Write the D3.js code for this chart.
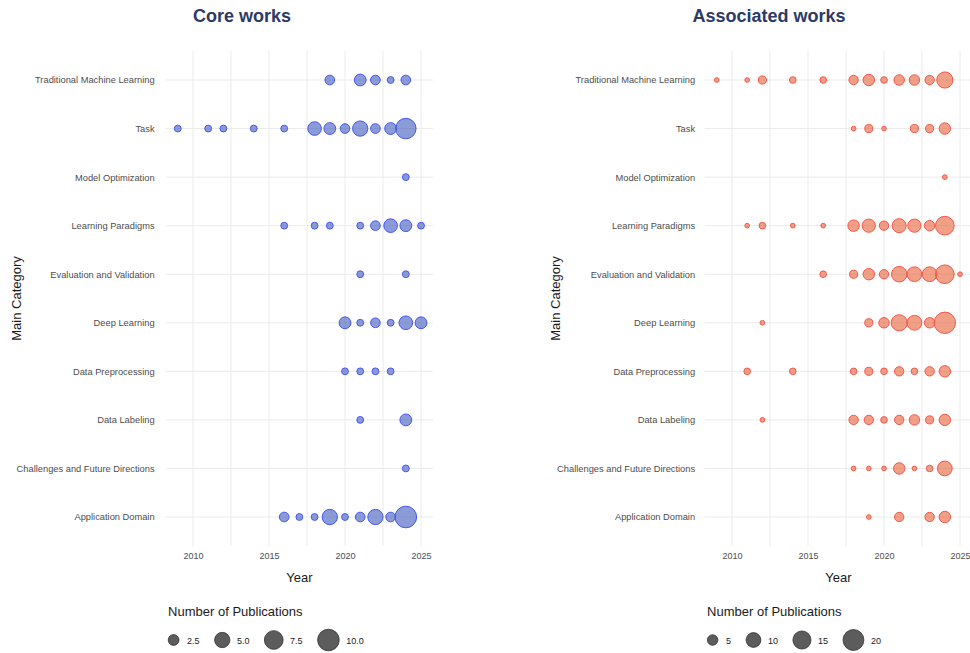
<!DOCTYPE html>
<html>
<head>
<meta charset="utf-8">
<script src="https://cdn.jsdelivr.net/npm/d3@7/dist/d3.min.js"></script>
<style>
  html, body { margin: 0; padding: 0; background: #ffffff; }
  svg { display: block; font-family: "Liberation Sans", Arial, Helvetica, sans-serif; }
</style>
</head>
<body>
<svg id="chart" width="970" height="653"></svg>
<script>
// ---------------- DATA ----------------
const categories = [
  "Traditional Machine Learning",
  "Task",
  "Model Optimization",
  "Learning Paradigms",
  "Evaluation and Validation",
  "Deep Learning",
  "Data Preprocessing",
  "Data Labeling",
  "Challenges and Future Directions",
  "Application Domain"
];

const panelTitles = ["Core works", "Associated works"];
const xTicks = [2010, 2015, 2020, 2025];
const coreLegendBreaks = [2.5, 5.0, 7.5, 10.0];
const assocLegendBreaks = [5, 10, 15, 20];

// [year, number of publications] per category (same order as categories)
const coreCounts = [
  [[2019,2],[2021,3],[2022,2],[2023,1],[2024,2]],
  [[2009,1],[2011,1],[2012,1],[2014,1],[2016,1],[2018,4],[2019,3],[2020,2],[2021,5],[2022,2],[2023,3],[2024,9]],
  [[2024,1]],
  [[2016,1],[2018,1],[2019,1],[2021,1],[2022,2],[2023,4],[2024,3],[2025,1]],
  [[2021,1],[2024,1]],
  [[2020,3],[2021,1],[2022,2],[2023,1],[2024,4],[2025,3]],
  [[2020,1],[2021,1],[2022,1],[2023,1]],
  [[2021,1],[2024,3]],
  [[2024,1]],
  [[2016,2],[2017,1],[2018,1],[2019,5],[2020,1],[2021,2],[2022,5],[2023,2],[2024,10]]
];

const assocCounts = [
  [[2009,1],[2011,1],[2012,3],[2014,2],[2016,2],[2018,4],[2019,6],[2020,2],[2021,5],[2022,5],[2023,4],[2024,12]],
  [[2018,1],[2019,3],[2020,1],[2022,3],[2023,3],[2024,6]],
  [[2024,1]],
  [[2011,1],[2012,2],[2014,1],[2016,1],[2018,6],[2019,8],[2020,4],[2021,9],[2022,8],[2023,5],[2024,16]],
  [[2016,2],[2018,3],[2019,6],[2020,4],[2021,11],[2022,10],[2023,10],[2024,16],[2025,1]],
  [[2012,1],[2019,3],[2020,5],[2021,12],[2022,10],[2023,5],[2024,21]],
  [[2011,2],[2014,2],[2018,2],[2019,3],[2020,2],[2021,4],[2022,2],[2023,4],[2024,6]],
  [[2012,1],[2018,4],[2019,4],[2020,2],[2021,4],[2022,5],[2023,3],[2024,6]],
  [[2018,1],[2019,1],[2020,1],[2021,6],[2022,1],[2023,2],[2024,10]],
  [[2019,1],[2021,4],[2023,4],[2024,6]]
];

// ---------------- LAYOUT ----------------
const svg = d3.select("#chart");
const panels = [
  { title: panelTitles[0], counts: coreCounts, breaks: coreLegendBreaks,
    x0: 165.6, x1: 433.2, titleX: 242, yTitleX: 21, labPad: 11,
    fill: "#3c58bc", stroke: "#4657f2", rScale: d3.scaleSqrt().domain([0, 10]).range([0, 10.8]) },
  { title: panelTitles[1], counts: assocCounts, breaks: assocLegendBreaks,
    x0: 704.6, x1: 972.2, titleX: 769, yTitleX: 560, labPad: 9.5,
    fill: "#e66137", stroke: "#f5564a", rScale: d3.scaleSqrt().domain([0, 21]).range([0, 10.7]) }
];
const yTop = 50.9, yBottom = 546.1;

panels.forEach(p => {
  const x = d3.scaleLinear().domain([2008.2, 2025.8]).range([p.x0, p.x1]);
  const y = d3.scalePoint().domain(categories).range([80, 517]);
  const g = svg.append("g");

  // grid
  const minor = [2012.5, 2017.5, 2022.5];
  g.selectAll(".vminor").data(minor).join("line")
    .attr("x1", d => x(d)).attr("x2", d => x(d))
    .attr("y1", yTop).attr("y2", yBottom)
    .attr("stroke", "#ebebeb").attr("stroke-width", 1);
  g.selectAll(".vmajor").data(xTicks).join("line")
    .attr("x1", d => x(d)).attr("x2", d => x(d))
    .attr("y1", yTop).attr("y2", yBottom)
    .attr("stroke", "#ebebeb").attr("stroke-width", 1);
  g.selectAll(".hmajor").data(categories).join("line")
    .attr("x1", p.x0).attr("x2", p.x1)
    .attr("y1", d => y(d)).attr("y2", d => y(d))
    .attr("stroke", "#ebebeb").attr("stroke-width", 1);

  // axes
  const xa = g.append("g").attr("transform", `translate(0,${yBottom})`)
    .call(d3.axisBottom(x).tickValues(xTicks).tickFormat(d3.format("d")).tickSize(0).tickPadding(7));
  xa.select(".domain").remove();
  xa.selectAll("text").attr("font-size", 9).attr("fill", "#4d4d4d")
    .attr("font-family", "Liberation Sans, Arial, sans-serif");

  const ya = g.append("g").attr("transform", `translate(${p.x0},0)`)
    .call(d3.axisLeft(y).tickSize(0).tickPadding(p.labPad));
  ya.select(".domain").remove();
  ya.selectAll("text").attr("font-size", 9.3).attr("fill", "#4d4d4d")
    .attr("font-family", "Liberation Sans, Arial, sans-serif");

  // points
  const pts = [];
  p.counts.forEach((arr, i) => arr.forEach(([yr, n]) => pts.push({ cat: categories[i], year: yr, n })));
  g.selectAll(".pt").data(pts).join("circle")
    .attr("cx", d => x(d.year)).attr("cy", d => y(d.cat))
    .attr("r", d => p.rScale(d.n))
    .attr("fill", p.fill).attr("fill-opacity", 0.6)
    .attr("stroke", p.stroke).attr("stroke-width", 1);

  // titles
  svg.append("text").attr("x", p.titleX).attr("y", 22).attr("text-anchor", "middle")
    .attr("font-size", 18).attr("font-weight", "bold").attr("fill", "#2b3a67").text(p.title);
  svg.append("text").attr("x", (p.x0 + p.x1) / 2).attr("y", 582).attr("text-anchor", "middle")
    .attr("font-size", 13).attr("fill", "#1a1a1a").text("Year");
  svg.append("text").attr("transform", `translate(${p.yTitleX},${(80 + 517) / 2}) rotate(-90)`)
    .attr("text-anchor", "middle").attr("font-size", 13).attr("fill", "#1a1a1a").text("Main Category");

  // legend
  const lg = svg.append("g");
  lg.append("text").attr("x", p.x0 + 2.5).attr("y", 616).attr("font-size", 13)
    .attr("fill", "#1a1a1a").text("Number of Publications");
  let cursor = p.x0 - 0.5;
  p.breaks.forEach(b => {
    const r = p.rScale(b);
    const kw = Math.max(17, 2 * r + 4);
    lg.append("circle").attr("cx", cursor + kw / 2).attr("cy", 640).attr("r", r)
      .attr("fill", "#5c5c5c").attr("stroke", "#333").attr("stroke-width", 0.8);
    const lx = cursor + kw + 5;
    const t = lg.append("text").attr("x", lx).attr("y", 643.5).attr("font-size", 9)
      .attr("fill", "#1a1a1a").text(p === panels[0] ? d3.format(".1f")(b) : d3.format("d")(b));
    cursor = lx + t.node().getComputedTextLength() + 13;
  });
});
</script>
</body>
</html>
